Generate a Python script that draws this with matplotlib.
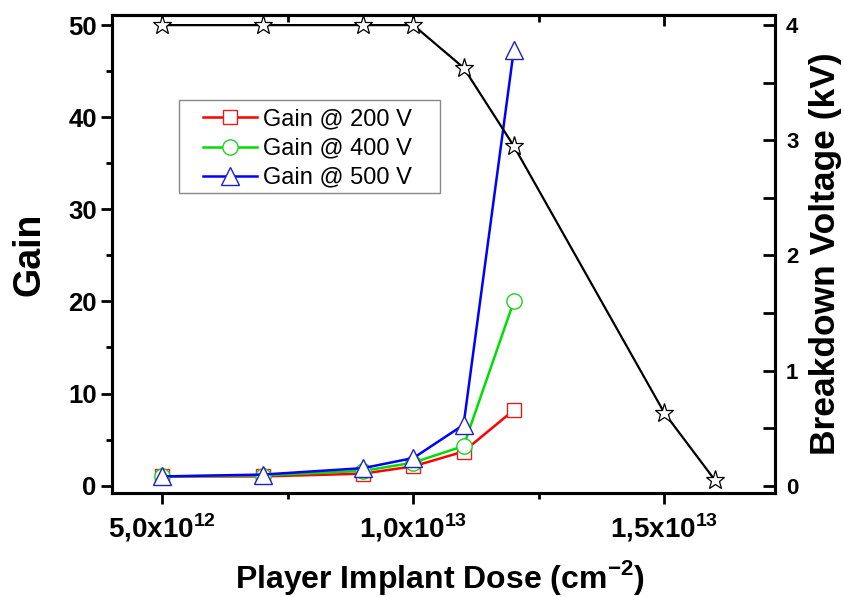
import matplotlib
matplotlib.use('Agg')
import matplotlib.pyplot as plt
from matplotlib.ticker import MultipleLocator, FixedLocator
from matplotlib.patches import Rectangle

plt.rcParams['font.family'] = ['Liberation Sans', 'DejaVu Sans']
plt.rcParams['mathtext.fontset'] = 'custom'
plt.rcParams['mathtext.rm'] = 'Liberation Sans:bold'
plt.rcParams['mathtext.bf'] = 'Liberation Sans:bold'

# data
dose = [5e12, 7e12, 9e12, 1.0e13, 1.1e13, 1.2e13]
gain_200 = [1.0, 1.0, 1.3, 2.1, 3.7, 8.2]
gain_400 = [1.0, 1.1, 1.6, 2.5, 4.3, 20.0]
gain_500 = [1.0, 1.2, 1.9, 3.0, 6.6, 47.3]

dose_bd = [5e12, 7e12, 9e12, 1.0e13, 1.1e13, 1.2e13, 1.5e13, 1.6e13]
breakdown = [4.0, 4.0, 4.0, 4.0, 3.63, 2.95, 0.63, 0.05]

xtick_pos = [5e12, 1.0e13, 1.5e13]
xtick_labels = [r'5,0x10$^{12}$', r'1,0x10$^{13}$', r'1,5x10$^{13}$']

fig = plt.figure(figsize=(8.44, 5.97), dpi=100)
ax = fig.add_axes([0.1327, 0.1742, 0.7855, 0.8007])
ax2 = ax.twinx()

ax.plot(dose, gain_200, '-s', color='#ff0000', lw=1.8, ms=10, mfc='white',
        mec='#e02020', mew=1.0, label='Gain @ 200 V')
ax.plot(dose, gain_400, '-o', color='#00dd00', lw=1.8, ms=11, mfc='white',
        mec='#20d020', mew=1.0, label='Gain @ 400 V')
ax.plot(dose, gain_500, '-^', color='#0000ff', lw=1.8, ms=13, mfc='white',
        mec='#2020c0', mew=1.0, label='Gain @ 500 V')

ax2.plot(dose_bd, breakdown, '-*', color='black', lw=1.6, ms=14, mfc='white',
         mec='black', mew=0.9)

ax.set_xlim(4.0e12, 1.72e13)
ax.set_ylim(-0.8, 51.1)
ax2.set_ylim(-0.8 * 0.08, 51.1 * 0.08)

ax.xaxis.set_major_locator(FixedLocator(xtick_pos))
ax.set_xticklabels(xtick_labels, fontsize=20, fontweight='bold')
ax.xaxis.set_minor_locator(MultipleLocator(2.5e12))
ax.yaxis.set_major_locator(MultipleLocator(10))
ax.yaxis.set_minor_locator(MultipleLocator(5))
ax2.yaxis.set_major_locator(MultipleLocator(1))
ax2.yaxis.set_minor_locator(MultipleLocator(0.5))

for lab in ax.get_yticklabels():
    lab.set_fontsize(18.5)
    lab.set_fontweight('bold')
for lab in ax2.get_yticklabels():
    lab.set_fontsize(16)
    lab.set_fontweight('bold')

ax.tick_params(axis='x', which='major', direction='out', length=8, width=2, pad=5)
ax.tick_params(axis='x', which='minor', direction='out', length=4, width=2)
ax.tick_params(axis='y', which='major', direction='out', length=8, width=2, pad=3)
ax.tick_params(axis='y', which='minor', direction='out', length=4, width=2)
ax2.tick_params(axis='y', which='both', direction='in', length=9, width=2, pad=8)

top = ax.secondary_xaxis('top')
top.xaxis.set_major_locator(FixedLocator(xtick_pos))
top.xaxis.set_minor_locator(MultipleLocator(2.5e12))
top.tick_params(axis='x', which='major', direction='in', length=8, width=2, labeltop=False)
top.tick_params(axis='x', which='minor', direction='in', length=5, width=2)
top.spines['top'].set_linewidth(2.2)

for a in (ax, ax2):
    for s in a.spines.values():
        s.set_linewidth(2.2)

ax.set_xlabel(r'Player Implant Dose (cm$^{-2}$)', fontsize=23, fontweight='bold')
ax.xaxis.set_label_coords(0.495, -0.137)
ax.set_ylabel('Gain', fontsize=27, fontweight='bold')
ax.yaxis.set_label_coords(-0.097, 0.5)
ax2.set_ylabel('Breakdown Voltage (kV)', fontsize=25.5, fontweight='bold', rotation=90)
ax2.yaxis.set_label_coords(1.052, 0.5)

# legend: frame drawn separately for the wide side padding
leg = ax.legend(loc='upper left', bbox_to_anchor=(198 / 844, 1 - 104 / 597),
                bbox_transform=fig.transFigure, borderaxespad=0, fontsize=17,
                handlelength=2.3, handletextpad=0.25, labelspacing=0.3,
                borderpad=0.2, frameon=False)
ax.add_patch(Rectangle((179 / 844, 1 - 193 / 597), 261 / 844, 93 / 597,
                       transform=fig.transFigure, facecolor='white',
                       edgecolor='#888888', lw=1.0, zorder=4, clip_on=False))

fig.savefig('out.png', dpi=100)
